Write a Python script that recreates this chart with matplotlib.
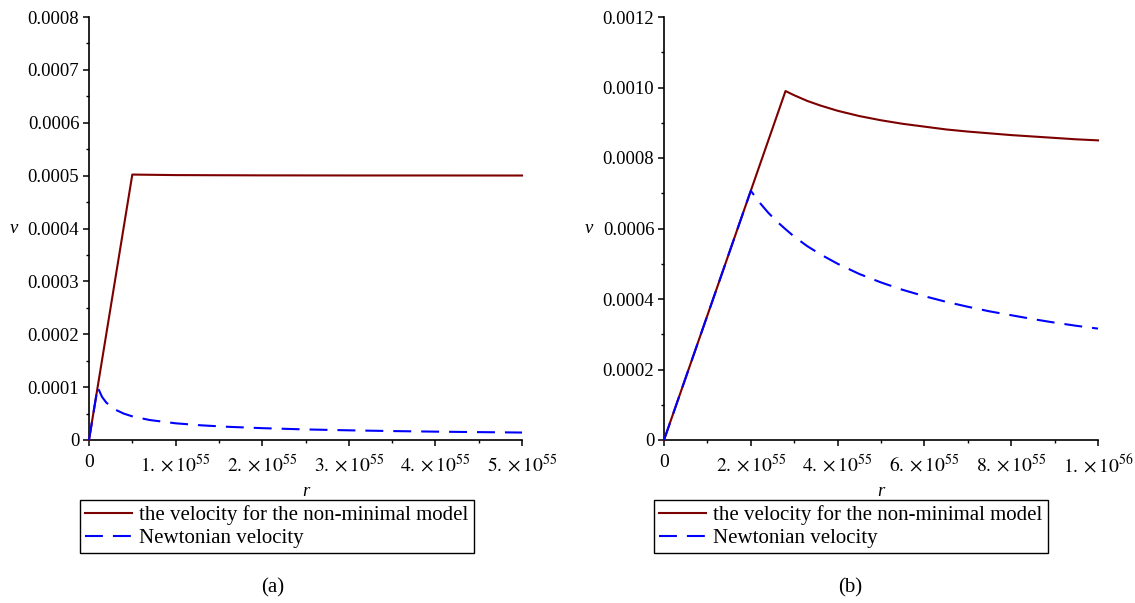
import matplotlib
matplotlib.use("Agg")
import matplotlib.pyplot as plt
from matplotlib.ticker import FixedLocator, MultipleLocator

plt.rcParams['font.family'] = ['Liberation Serif', 'DejaVu Serif']
plt.rcParams['mathtext.fontset'] = 'stix'

# ---------------- data (r in units of 1e55) ----------------
# panel (a)
a_red_r = [0, 0.5, 1.0, 2.0, 3.0, 4.0, 5.0]
a_red_v = [0, 0.000502, 0.000501, 0.0005005, 0.0005003, 0.0005003, 0.0005002]
a_blue_r = [0, 0.1, 0.15, 0.2, 0.3, 0.4, 0.5, 0.7, 1.0, 1.3, 1.6, 2.0, 2.5, 3.0, 3.5, 4.0, 4.5, 5.0]
a_blue_v = [0, 1.0e-4, 8.16e-5, 7.07e-5, 5.77e-5, 5.0e-5, 4.47e-5, 3.78e-5, 3.16e-5, 2.77e-5,
            2.50e-5, 2.24e-5, 2.0e-5, 1.83e-5, 1.69e-5, 1.58e-5, 1.49e-5, 1.41e-5]
a_xticks = [0, 1, 2, 3, 4, 5]
a_xlabels = ['0', r'$1.\times10^{55}$', r'$2.\times10^{55}$', r'$3.\times10^{55}$',
             r'$4.\times10^{55}$', r'$5.\times10^{55}$']
a_yticks = [0, 0.0001, 0.0002, 0.0003, 0.0004, 0.0005, 0.0006, 0.0007, 0.0008]
a_ylabels = ['0', '0.0001', '0.0002', '0.0003', '0.0004', '0.0005', '0.0006', '0.0007', '0.0008']

# panel (b)
b_red_r = [0, 2.8, 3.0, 3.3, 3.6, 4.0, 4.5, 5.0, 5.5, 6.0, 6.5, 7.0, 7.5, 8.0, 8.5, 9.0, 9.5, 10.0]
b_red_v = [0, 0.000990, 0.000978, 0.000962, 0.000949, 0.000934, 0.000919, 0.000907, 0.000897,
           0.000889, 0.000881, 0.000875, 0.000870, 0.000865, 0.000861, 0.000857, 0.000853, 0.000850]
b_blue_r = [0, 2.0, 2.2, 2.4, 2.6, 2.8, 3.0, 3.3, 3.6, 4.0, 4.5, 5.0, 5.5, 6.0, 6.5, 7.0, 7.5,
            8.0, 8.5, 9.0, 9.5, 10.0]
b_blue_v = [0, 0.000707, 0.000674, 0.000645, 0.000620, 0.000598, 0.000577, 0.000550, 0.000527,
            0.000500, 0.000471, 0.000447, 0.000426, 0.000408, 0.000392, 0.000378, 0.000365,
            0.000354, 0.000343, 0.000333, 0.000324, 0.000316]
b_xticks = [0, 2, 4, 6, 8, 10]
b_xlabels = ['0', r'$2.\times10^{55}$', r'$4.\times10^{55}$', r'$6.\times10^{55}$',
             r'$8.\times10^{55}$', r'$1.\times10^{56}$']
b_yticks = [0, 0.0002, 0.0004, 0.0006, 0.0008, 0.0010, 0.0012]
b_ylabels = ['0', '0.0002', '0.0004', '0.0006', '0.0008', '0.0010', '0.0012']

legend_labels = ['the velocity for the non-minimal model', 'Newtonian velocity']
captions = ['(a)', '(b)']

RED = '#7d0000'
BLUE = '#0000ff'
W, H = 1135, 603

fig = plt.figure(figsize=(W / 100, H / 100), dpi=100)


def px_axes(x0, x1, ytop, ybot):
    return fig.add_axes([x0 / W, 1 - ybot / H, (x1 - x0) / W, (ybot - ytop) / H])


def style(ax, xt, xl, xminor, yt, yl, yminor, xmax, ymax):
    for s in ['top', 'right']:
        ax.spines[s].set_visible(False)
    for s in ['left', 'bottom']:
        ax.spines[s].set_linewidth(1.2)
    ax.set_xlim(0, xmax)
    ax.set_ylim(0, ymax)
    ax.xaxis.set_major_locator(FixedLocator(xt))
    ax.set_xticklabels(xl)
    ax.xaxis.set_minor_locator(MultipleLocator(xminor))
    ax.yaxis.set_major_locator(FixedLocator(yt))
    ax.set_yticklabels(yl)
    ax.yaxis.set_minor_locator(MultipleLocator(yminor))
    ax.tick_params(which='major', length=4, width=1.1, labelsize=13.5)
    ax.tick_params(axis='x', which='major', pad=6, labelsize=14)
    ax.tick_params(axis='y', which='major', pad=3)
    ax.tick_params(which='minor', length=2.5, width=1.0)
    ax.set_xlabel('r', fontstyle='italic', fontsize=13.5, labelpad=5)
    ax.set_ylabel('v', fontstyle='italic', fontsize=13.5, rotation=0, labelpad=10, va='center')


def draw(ax, rr, rv, br, bv):
    l1, = ax.plot(rr, rv, color=RED, lw=1.5, zorder=3, clip_on=False)
    l2, = ax.plot(br, bv, color=BLUE, lw=1.5, dashes=(8.6, 4.8), zorder=4, clip_on=False)
    return l1, l2


ax1 = px_axes(89, 522, 17, 440)
h1 = draw(ax1, a_red_r, a_red_v, a_blue_r, a_blue_v)
style(ax1, a_xticks, a_xlabels, 0.5, a_yticks, a_ylabels, 0.00005, 5, 0.0008)

ax2 = px_axes(664, 1098, 17, 440)
h2 = draw(ax2, b_red_r, b_red_v, b_blue_r, b_blue_v)
style(ax2, b_xticks, b_xlabels, 1, b_yticks, b_ylabels, 0.0001, 10, 0.0012)

for hl, x0 in [(h1, 80), (h2, 654)]:
    leg = fig.legend(hl, legend_labels, loc='upper left',
                     bbox_to_anchor=(x0 / W, 1 - 500 / H), borderaxespad=0,
                     fontsize=15, handlelength=2.25, handletextpad=0.35,
                     borderpad=0.25, labelspacing=0.15, fancybox=False,
                     framealpha=1, edgecolor='black')
    leg.get_frame().set_linewidth(1.0)

fig.text(273 / W, 1 - 588 / H, captions[0], ha='center', va='center', fontsize=15)
fig.text(850 / W, 1 - 588 / H, captions[1], ha='center', va='center', fontsize=15)

fig.savefig('out.png', dpi=100)
